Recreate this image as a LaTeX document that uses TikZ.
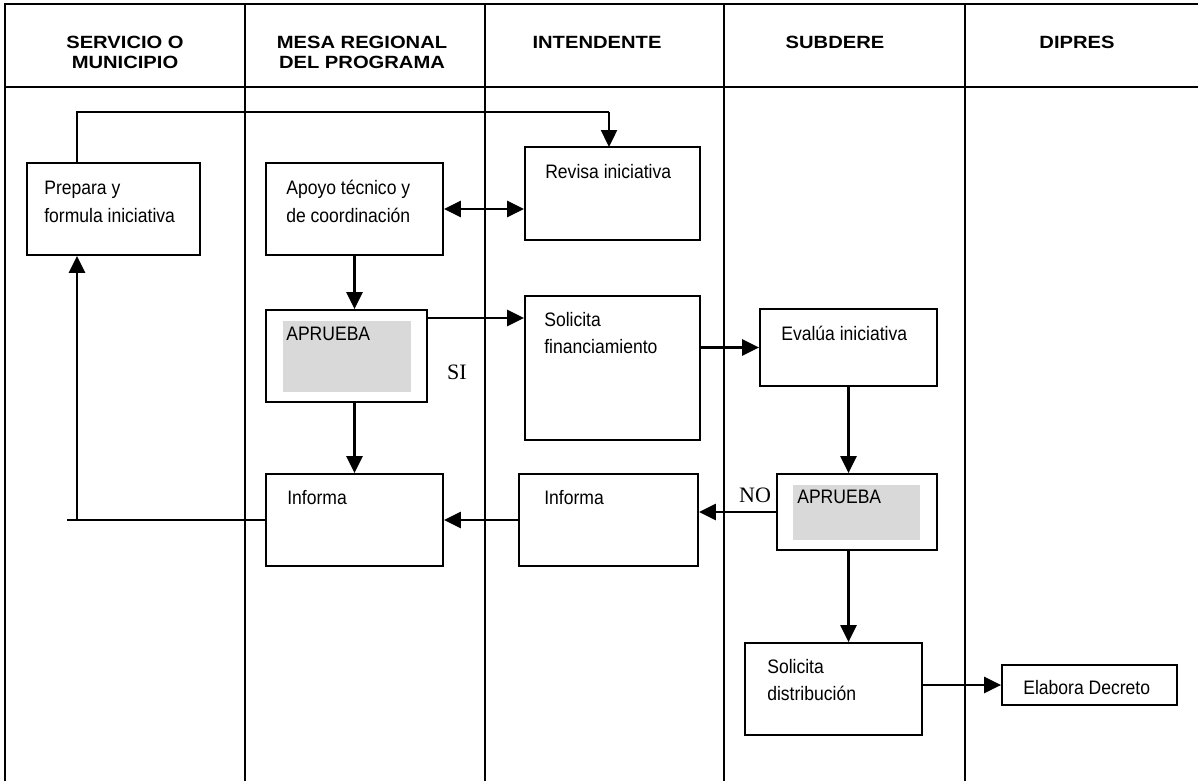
\documentclass[tikz,border=0pt]{standalone}
\usepackage{fontspec}
\usetikzlibrary{arrows.meta}
\newfontfamily\bodyf[FakeStretch=0.9]{Liberation Sans}
\newfontfamily\headf[FakeStretch=1.14]{Liberation Sans Bold}
\newfontfamily\serf{Liberation Serif}
\definecolor{shade}{RGB}{217,217,217}
\tikzset{
 box/.style={draw, line width=1.8pt, rectangle, inner sep=0pt},
 graybox/.style={fill=shade, draw=none, rectangle, inner sep=0pt},
 arr/.style={line width=2.4pt, -{Triangle[length=17pt,width=16pt]}},
 darr/.style={line width=2.4pt, {Triangle[length=17pt,width=16pt]}-{Triangle[length=17pt,width=16pt]}},
 plain/.style={line width=2.4pt},
 gridline/.style={line width=2pt},
 txt/.style={font=\bodyf\fontsize{19.5}{27}\selectfont, inner sep=0pt, anchor=base west},
 hd/.style={font=\headf\fontsize{17.7}{20}\selectfont, inner sep=0pt, align=center, anchor=north},
 lab/.style={font=\serf\fontsize{22}{26}\selectfont, inner sep=0pt, anchor=base west}
}
\begin{document}
\begin{tikzpicture}[x=1pt,y=-1pt]
\useasboundingbox (0,0) rectangle (1198,781);
% table
\draw[gridline] (5,781) -- (5,4) -- (1198,4);
\draw[gridline] (5,87) -- (1198,87);
\foreach \xx in {245,485,724,965} \draw[gridline] (\xx,4) -- (\xx,781);
% headers
\node[hd] (h1) at (125,36) {SERVICIO O\\MUNICIPIO};
\node[hd] (h2) at (362,36) {MESA REGIONAL\\DEL PROGRAMA};
\node[hd] (h3) at (597,36) {INTENDENTE};
\node[hd] (h4) at (835,36) {SUBDERE};
\node[hd] (h5) at (1077,36) {DIPRES};
% boxes
\node[box, minimum width=173pt, minimum height=92pt] (prep) at (113.5,209) {};
\node[box, minimum width=177pt, minimum height=92pt] (apoyo) at (354.5,209) {};
\node[box, minimum width=175pt, minimum height=93pt] (revisa) at (612.5,193.5) {};
\node[box, minimum width=161pt, minimum height=92pt] (apr1) at (346.5,356) {};
\node[box, minimum width=175pt, minimum height=144pt] (solfin) at (612.5,368) {};
\node[box, minimum width=177pt, minimum height=77pt] (evalua) at (848.5,347.5) {};
\node[box, minimum width=160pt, minimum height=76pt] (apr2) at (857,512) {};
\node[box, minimum width=179pt, minimum height=92pt] (inf2) at (608.5,520) {};
\node[box, minimum width=177pt, minimum height=92pt] (inf1) at (354.5,520) {};
\node[box, minimum width=177pt, minimum height=92pt] (soldis) at (833.5,689) {};
\node[box, minimum width=175pt, minimum height=40pt] (elab) at (1089.5,685) {};
% gray fills
\node[graybox, minimum width=128pt, minimum height=71pt] (g1) at (347,356.5) {};
\node[graybox, minimum width=127pt, minimum height=55pt] (g2) at (856.5,512.5) {};
% texts
\node[txt] (t1a) at ([shift={(18pt,-32pt)}]prep.north west) {Prepara y};
\node[txt] (t1b) at ([shift={(18pt,-60pt)}]prep.north west) {formula iniciativa};
\node[txt] (t2a) at ([shift={(21pt,-32pt)}]apoyo.north west) {Apoyo técnico y};
\node[txt] (t2b) at ([shift={(21pt,-60pt)}]apoyo.north west) {de coordinación};
\node[txt] (t3) at ([shift={(21pt,-32pt)}]revisa.north west) {Revisa iniciativa};
\node[txt] (t4) at ([shift={(21pt,-31pt)}]apr1.north west) {APRUEBA};
\node[txt] (t5a) at ([shift={(20pt,-31pt)}]solfin.north west) {Solicita};
\node[txt] (t5b) at ([shift={(20pt,-58pt)}]solfin.north west) {financiamiento};
\node[txt] (t6) at ([shift={(22pt,-32pt)}]evalua.north west) {Evalúa iniciativa};
\node[txt] (t7) at ([shift={(21pt,-30pt)}]apr2.north west) {APRUEBA};
\node[txt] (t8) at ([shift={(22pt,-31pt)}]inf1.north west) {Informa};
\node[txt] (t9) at ([shift={(26pt,-31pt)}]inf2.north west) {Informa};
\node[txt] (t10a) at ([shift={(23pt,-31pt)}]soldis.north west) {Solicita};
\node[txt] (t10b) at ([shift={(23pt,-58pt)}]soldis.north west) {distribución};
\node[txt] (t11) at ([shift={(22pt,-30pt)}]elab.north west) {Elabora Decreto};
\node[lab] (si) at (447,379) {SI};
\node[lab] (no) at (739,502) {NO};
% connectors
\coordinate (ptop) at (77,163);
\coordinate (bend1) at (77,112);
\coordinate (bend2) at (609,112);
\coordinate (rtop) at (609,147);
\draw[plain] (ptop) -- (bend1) -- (bend2);
\draw[arr] (bend2) -- (rtop);
\draw[darr] (apoyo.east) -- (apoyo.east -| revisa.west);
\draw[arr] (apoyo.south) -- (apoyo.south |- apr1.north);
\draw[arr] ([yshift=38pt]apr1.east) -- ([yshift=38pt]apr1.east -| solfin.west);
\draw[arr] (solfin.east |- evalua.west) -- (evalua.west);
\draw[arr] (evalua.south) -- (apr2.north -| evalua.south);
\draw[arr] (apr2.west) -- (apr2.west -| inf2.east);
\draw[arr] (inf2.west) -- (inf1.east);
\draw[arr] (apr1.south -| inf1.north) -- (inf1.north);
\draw[arr] (apr2.south -| evalua.south) -- (soldis.north -| evalua.south);
\draw[arr] ([yshift=4pt]soldis.east) -- (elab.west);
\coordinate (retL) at (67,520);
\coordinate (retV) at (77,520);
\draw[plain] (inf1.west) -- (retL);
\draw[arr] (retV) -- (prep.south -| retV);
\end{tikzpicture}
\end{document}
